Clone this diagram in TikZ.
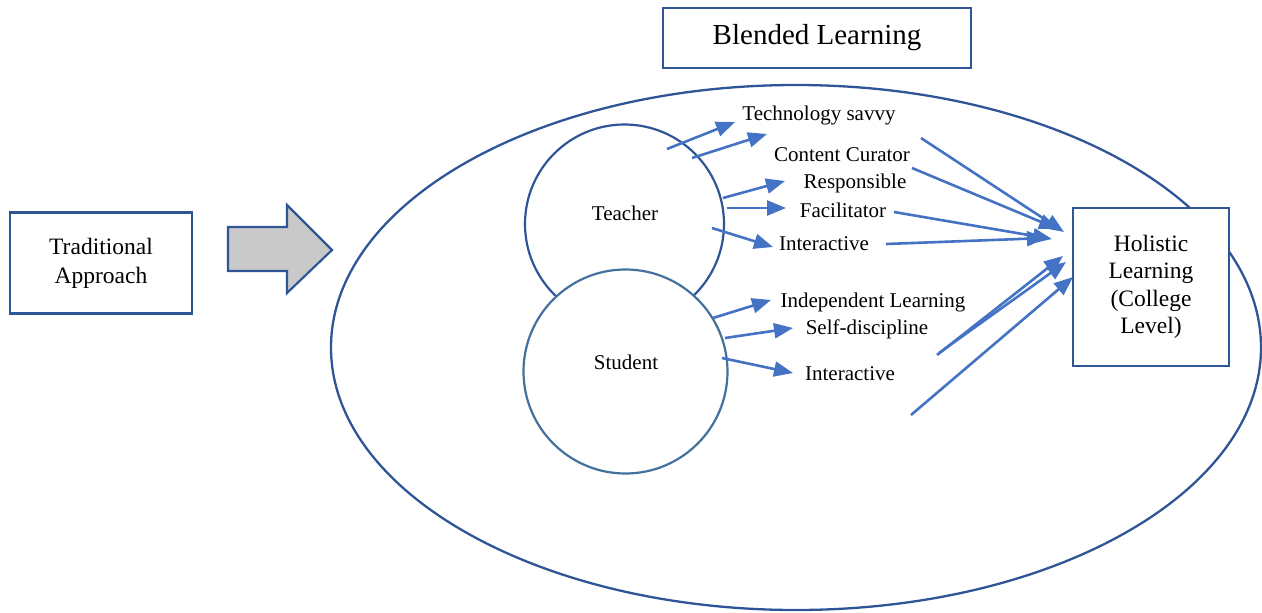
\documentclass[tikz,border=0pt]{standalone}
\usepackage{fontspec}
\setmainfont{Liberation Serif}
\usetikzlibrary{arrows.meta}
\definecolor{dkblue}{HTML}{2F5597}
\definecolor{stblue}{HTML}{41719C}
\definecolor{arblue}{HTML}{4472C4}
\definecolor{arrgray}{HTML}{C9C9C9}
\tikzset{
  boxstyle/.style={draw=dkblue, line width=2.2pt, fill=white, inner sep=0pt},
  lbl/.style={inner sep=0pt, font=\fontsize{21}{24}\selectfont},
  conn/.style={draw=arblue, line width=2.6pt, -{Triangle[length=19pt,width=15pt]}},
}
\begin{document}
\begin{tikzpicture}[x=1pt,y=-1pt]
\useasboundingbox (0,0) rectangle (1262,613);
% big ellipse
\draw[dkblue, line width=2.3pt] (796,347.5) ellipse [x radius=465, y radius=262.5];
% circles
\node (teacher) [circle, draw=dkblue, line width=2.2pt, minimum size=199pt, inner sep=0pt] at (624.5,224) {};
\node (student) [circle, draw=stblue, line width=2.2pt, fill=white, minimum size=204pt, inner sep=0pt] at (625.5,371.5) {};
\node[lbl] at (625,213.5) {Teacher};
\node[lbl] at (626,362.5) {Student};
% boxes
\node (blended) [boxstyle, minimum width=308pt, minimum height=60pt, font=\fontsize{29}{33}\selectfont] at (817,38) {Blended Learning};
\node (trad) [boxstyle, minimum width=182pt, minimum height=101pt, align=center, font=\fontsize{23.5}{29}\selectfont] at (101,263) {Traditional\\Approach};
\node (holistic) [boxstyle, minimum width=156pt, minimum height=158pt, align=center, font=\fontsize{23.5}{27.5}\selectfont] at (1151,287) {Holistic\\Learning\\(College\\Level)};
% gray arrow
\draw[dkblue, line width=2.2pt, fill=arrgray, line join=miter] (228,227) -- (287,227) -- (287,205) -- (332,250) -- (287,293) -- (287,271) -- (228,271) -- cycle;
% labels
\node (tech) [lbl] at (819,115.5) {Technology savvy};
\node (curator) [lbl] at (842,154.5) {Content Curator};
\node (resp) [lbl] at (855,183.5) {Responsible};
\node (facil) [lbl] at (843,210.5) {Facilitator};
\node (interT) [lbl] at (824,243.5) {Interactive};
\node (indep) [lbl] at (873,302.5) {Independent Learning};
\node (selfd) [lbl] at (867,329.5) {Self-discipline};
\node (interS) [lbl] at (850,374) {Interactive};
% coordinates for connector ends
\coordinate (t1s) at (667,149); \coordinate (t1e) at (735,122);
\coordinate (t2s) at (692,158); \coordinate (t2e) at (767,134);
\coordinate (t3s) at (723,198); \coordinate (t3e) at (785,181);
\coordinate (t4s) at (727,208); \coordinate (t4e) at (786,208);
\coordinate (t5s) at (712,228); \coordinate (t5e) at (773,247);
\coordinate (s1s) at (713,318); \coordinate (s1e) at (771,300);
\coordinate (s2s) at (725,338); \coordinate (s2e) at (793,328);
\coordinate (s3s) at (722,358); \coordinate (s3e) at (793,373);
\coordinate (r1s) at (921,138); \coordinate (r1e) at (1064,232);
\coordinate (r2s) at (912,168); \coordinate (r2e) at (1058,229);
\coordinate (r3s) at (894,212); \coordinate (r3e) at (1052,239);
\coordinate (r4s) at (886,244); \coordinate (r4e) at (1046,238);
\coordinate (r5s) at (937,355); \coordinate (r5e) at (1063,256);
\coordinate (r6s) at (939,353); \coordinate (r6e) at (1066,262);
\coordinate (r7s) at (911,415); \coordinate (r7e) at (1073,277);
% connectors
\draw[conn] (t1s) -- (t1e);
\draw[conn] (t2s) -- (t2e);
\draw[conn] (t3s) -- (t3e);
\draw[conn] (t4s) -- (t4e);
\draw[conn] (t5s) -- (t5e);
\draw[conn] (s1s) -- (s1e);
\draw[conn] (s2s) -- (s2e);
\draw[conn] (s3s) -- (s3e);
\draw[conn] (r1s) -- (r1e);
\draw[conn] (r2s) -- (r2e);
\draw[conn] (r3s) -- (r3e);
\draw[conn] (r4s) -- (r4e);
\draw[conn] (r5s) -- (r5e);
\draw[conn] (r6s) -- (r6e);
\draw[conn] (r7s) -- (r7e);
\end{tikzpicture}
\end{document}
